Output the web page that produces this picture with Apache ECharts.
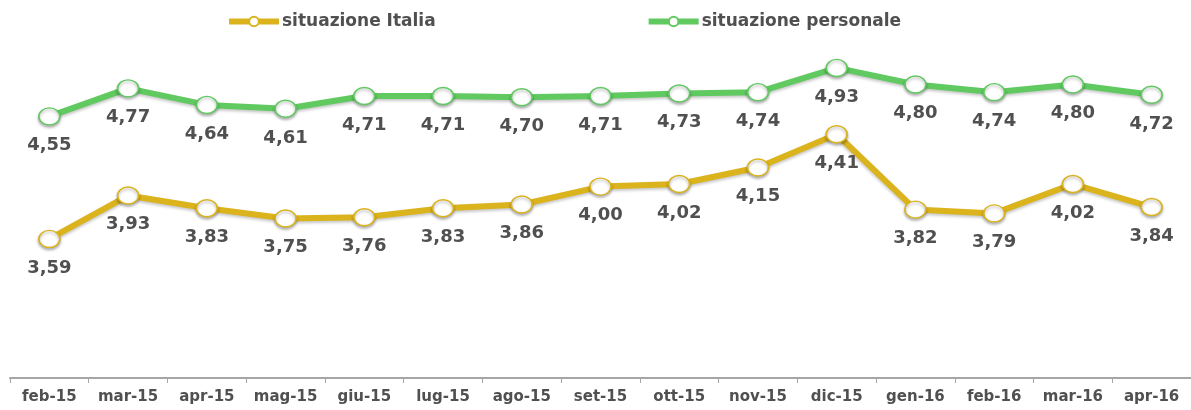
<!DOCTYPE html>
<html>
<head>
<meta charset="utf-8">
<script src="https://cdn.jsdelivr.net/npm/echarts@6/dist/echarts.min.js"></script>
<style>
  html, body { margin: 0; padding: 0; background: #fff; }
  #main { width: 1191px; height: 410px; }
</style>
</head>
<body>
<div id="main"></div>
<script>
let months = ['feb-15', 'mar-15', 'apr-15', 'mag-15', 'giu-15', 'lug-15', 'ago-15', 'set-15',
    'ott-15', 'nov-15', 'dic-15', 'gen-16', 'feb-16', 'mar-16', 'apr-16'];
let italia = [3.59, 3.93, 3.83, 3.75, 3.76, 3.83, 3.86, 4.00, 4.02, 4.15, 4.41, 3.82, 3.79, 4.02, 3.84];
let personale = [4.55, 4.77, 4.64, 4.61, 4.71, 4.71, 4.70, 4.71, 4.73, 4.74, 4.93, 4.80, 4.74, 4.80, 4.72];

let colors = {
    italia: '#dbb31c',
    personale: '#60c960',
    text: '#505050'
};
let font = 'DejaVu Sans, Verdana, sans-serif';

// values are shown with a comma like in the original
function commaLabel(p) {
    return p.value.toFixed(2).replace('.', ',');
}

function makeSeries(name, data, color) {
    return {
        name: name,
        type: 'line',
        data: data,
        symbol: 'circle',
        symbolSize: [21, 17],
        lineStyle: {
            color: color,
            width: 6,
            shadowColor: 'rgba(0,0,0,0.22)',
            shadowBlur: 3,
            shadowOffsetY: 2
        },
        itemStyle: {
            color: '#fff',
            borderColor: color,
            borderWidth: 1.5,
            shadowColor: 'rgba(0,0,0,0.3)',
            shadowBlur: 3,
            shadowOffsetY: 2
        },
        label: {
            show: true,
            position: 'bottom',
            distance: 11,
            formatter: commaLabel,
            color: colors.text,
            fontFamily: font,
            fontWeight: 'bold',
            fontSize: 18
        },
        emphasis: { disabled: true }
    };
}

const option = {
    animation: false,
    legend: {
        top: 8,
        left: 221,
        itemGap: 210,
        itemWidth: 50,
        itemHeight: 12,
        lineStyle: { width: 6 },
        textStyle: {
            color: colors.text,
            fontFamily: font,
            fontWeight: 'bold',
            fontSize: 17,
            padding: [0, 0, 0, -2]
        },
        data: ['situazione Italia', 'situazione personale']
    },
    grid: {
        left: 10,
        top: 59,
        width: 1186,
        height: 319
    },
    xAxis: {
        type: 'category',
        data: months,
        boundaryGap: true,
        axisLine: { lineStyle: { color: '#a6a6a6', width: 2 } },
        axisTick: { show: true, interval: 0, length: 5, lineStyle: { color: '#a6a6a6', width: 1 } },
        axisLabel: {
            interval: 0,
            hideOverlap: false,
            margin: 12,
            color: colors.text,
            fontFamily: font,
            fontWeight: 'bold',
            fontSize: 15
        }
    },
    yAxis: {
        type: 'value',
        min: 2.5,
        max: 5,
        show: false,
        splitLine: { show: false }
    },
    series: [
        makeSeries('situazione Italia', italia, colors.italia),
        makeSeries('situazione personale', personale, colors.personale)
    ]
};

let plot = echarts.init(document.querySelector('#main'));
plot.setOption(option);
</script>
</body>
</html>
